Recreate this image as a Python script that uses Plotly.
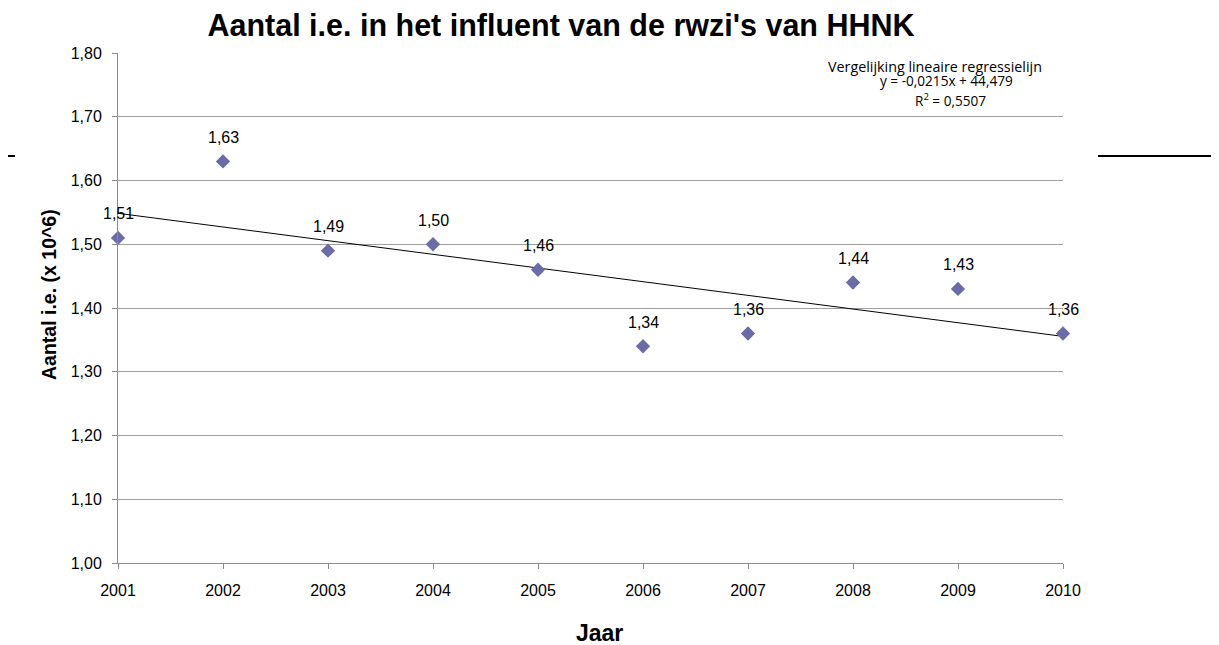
import numpy as np
import plotly.graph_objects as go

years = [2001, 2002, 2003, 2004, 2005, 2006, 2007, 2008, 2009, 2010]
values = [1.51, 1.63, 1.49, 1.50, 1.46, 1.34, 1.36, 1.44, 1.43, 1.36]
labels = ["1,51", "1,63", "1,49", "1,50", "1,46", "1,34", "1,36", "1,44", "1,43", "1,36"]

slope, intercept = np.polyfit(years, values, 1)
trend_x = [years[0], years[-1]]
trend_y = [slope * x + intercept for x in trend_x]

FONT = "Liberation Sans, Arial, sans-serif"

# plot area in figure pixels
L, R, T, B = 110, 1055, 45, 555
W, H = R - L, B - T


def px(x):
    return (x - L) / W


def py(y):
    return 1 - (y - T) / H


fig = go.Figure()
fig.add_trace(go.Scatter(x=trend_x, y=trend_y, mode="lines", cliponaxis=False,
                         line=dict(color="black", width=1), hoverinfo="skip"))
fig.add_trace(go.Scatter(x=years, y=values, mode="markers", cliponaxis=False,
                         marker=dict(symbol="diamond", size=11, color="#6B6BA8",
                                     line=dict(width=0))))

for yr, v, lab in zip(years, values, labels):
    fig.add_annotation(x=yr, y=v, text=lab, showarrow=False, yshift=24,
                       font=dict(family=FONT, size=16, color="black"))

fig.update_layout(
    width=1219, height=645, showlegend=False,
    separators=", ",
    plot_bgcolor="white", paper_bgcolor="white",
    margin=dict(l=L, r=1219 - R, t=T, b=645 - B),
    font=dict(family=FONT, color="black"),
    title=dict(text="<b>Aantal i.e. in het influent van de rwzi's van HHNK</b>",
               x=553 / 1219, xanchor="center", y=1 - 17 / 645, yanchor="middle",
               font=dict(size=30.5, family=FONT)),
    xaxis=dict(range=[2001, 2010], tickvals=years, ticktext=[str(y) for y in years],
               showgrid=False, zeroline=False, showline=True, linecolor="#8c8c8c",
               ticks="outside", ticklen=5, tickcolor="#8c8c8c",
               tickfont=dict(size=16), ticklabelstandoff=8),
    yaxis=dict(range=[1.0, 1.8], dtick=0.1, tickformat=".2f",
               showgrid=True, gridcolor="#a0a0a0", gridwidth=1,
               zeroline=False, showline=True, linecolor="#8c8c8c",
               ticks="outside", ticklen=5, tickcolor="#8c8c8c",
               tickfont=dict(size=16), ticklabelstandoff=7),
)

# axis titles
fig.add_annotation(xref="paper", yref="paper", x=px(41), y=py(287), text="<b>Aantal i.e. (x 10^6)</b>",
                   textangle=-90, showarrow=False, font=dict(family=FONT, size=19.5),
                   xanchor="center", yanchor="middle")
fig.add_annotation(xref="paper", yref="paper", x=px(591), y=py(625), text="<b>Jaar</b>",
                   showarrow=False, font=dict(family=FONT, size=23),
                   xanchor="center", yanchor="middle")

# regression equation box text
EQF = "Open Sans, sans-serif"
fig.add_annotation(xref="paper", yref="paper", x=px(927), y=py(58),
                   text="Vergelijking lineaire regressielijn", showarrow=False,
                   font=dict(family=EQF, size=14.3), xanchor="center", yanchor="middle")
fig.add_annotation(xref="paper", yref="paper", x=px(938), y=py(72),
                   text="y = -0,0215x + 44,479", showarrow=False,
                   font=dict(family=EQF, size=13.6), xanchor="center", yanchor="middle")
fig.add_annotation(xref="paper", yref="paper", x=px(942), y=py(92),
                   text="R<sup>2</sup> = 0,5507", showarrow=False,
                   font=dict(family=EQF, size=13.6), xanchor="center", yanchor="middle")

# stray short lines at the sides of the original picture
yl = py(148)
fig.add_shape(type="line", xref="paper", yref="paper", x0=px(-4), x1=px(7),
              y0=yl, y1=yl, line=dict(color="black", width=2))
fig.add_shape(type="line", xref="paper", yref="paper", x0=px(1090), x1=px(1215),
              y0=yl, y1=yl, line=dict(color="black", width=2))

fig.write_html("out.html")
